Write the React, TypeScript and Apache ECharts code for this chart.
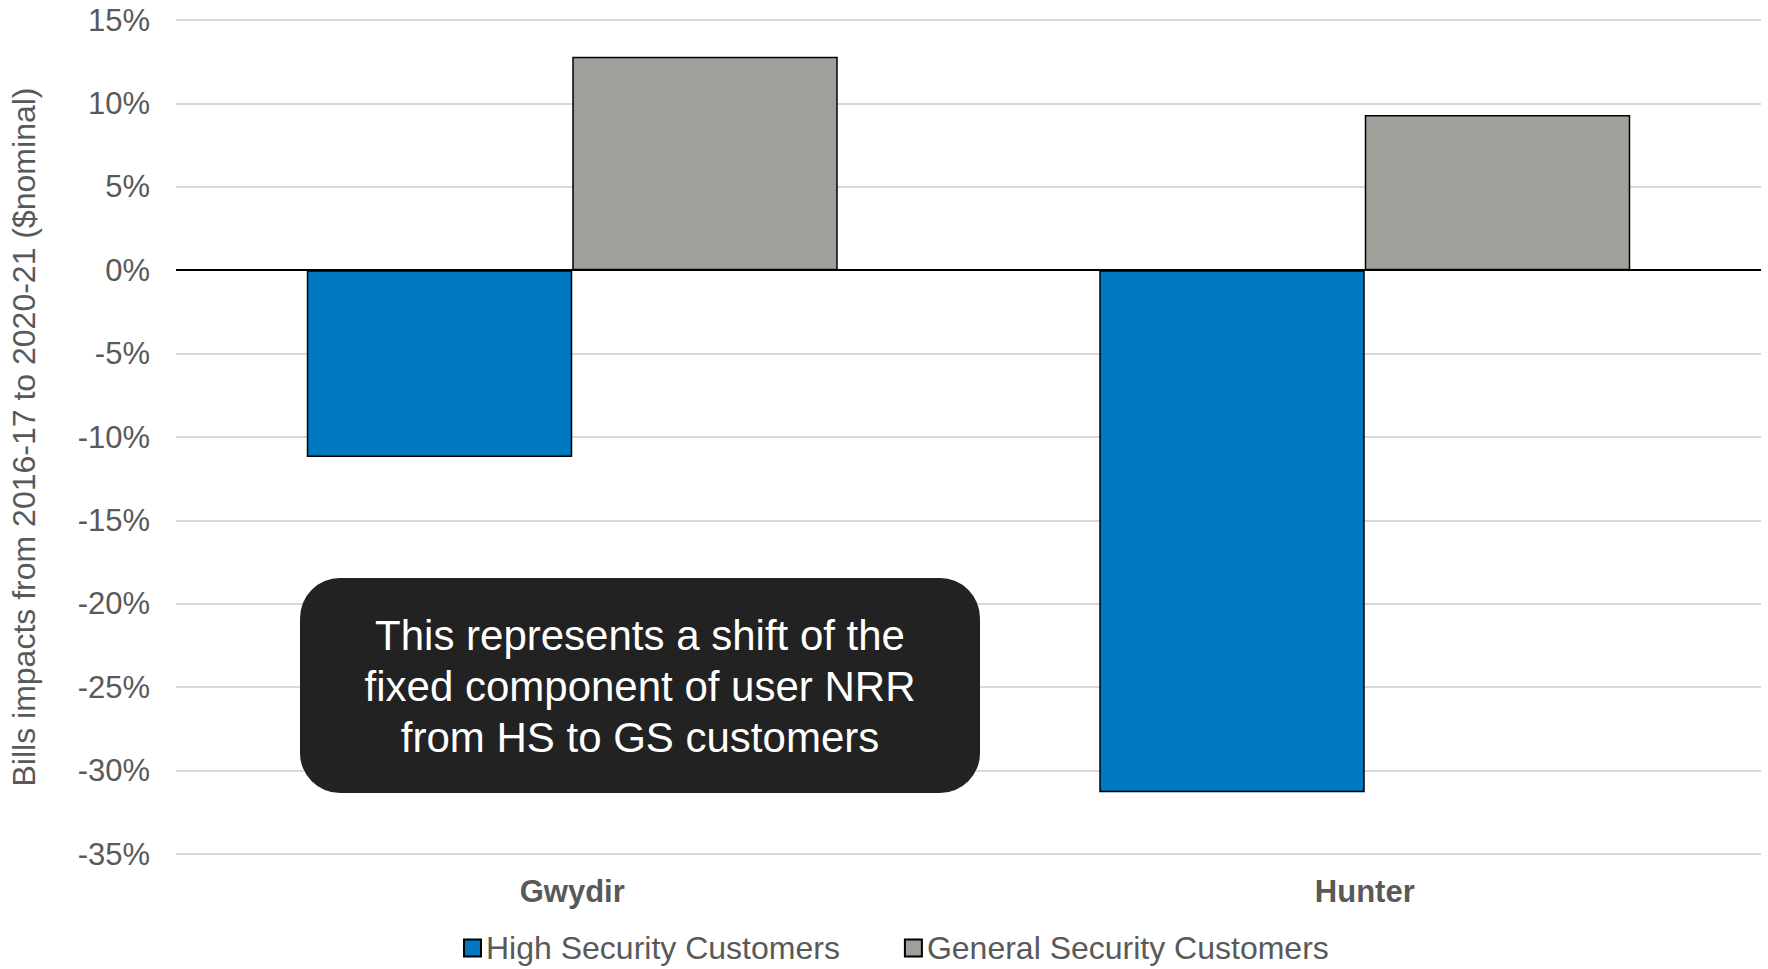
import React, { useEffect, useRef } from "react";
import * as echarts from "echarts";

const categories = ["Gwydir", "Hunter"];
const highSecurity = [-11.2, -31.3];
const generalSecurity = [12.8, 9.3];
const seriesNames = ["High Security Customers", "General Security Customers"];
const yAxisTitle = "Bills impacts from 2016-17 to 2020-21 ($nominal)";
const annotationLines = [
  "This represents a shift of the",
  "fixed component of user NRR",
  "from HS to GS customers",
];

const FONT = "'Liberation Sans', Arial, sans-serif";
const TXT = "#595959";

export default function App() {
  const ref = useRef<HTMLDivElement>(null);
  useEffect(() => {
    document.body.style.margin = "0";
    const chart = echarts.init(ref.current!, null, { renderer: "svg" });
    chart.setOption({
      animation: false,
      textStyle: { fontFamily: FONT },
      grid: { left: 172, right: 7, top: 20, bottom: 115, containLabel: false },
      legend: {
        left: 458,
        top: 925,
        icon: "rect",
        itemWidth: 17,
        itemHeight: 17,
        itemGap: 64,
        textStyle: { fontSize: 32, color: TXT, fontFamily: FONT, lineHeight: 36 },
        data: seriesNames,
      },
      xAxis: {
        type: "category",
        data: categories,
        axisLine: { show: false, onZero: false },
        axisTick: { show: false },
        axisLabel: {
          fontSize: 31,
          fontWeight: "bold",
          color: TXT,
          margin: 22,
          fontFamily: FONT,
        },
      },
      yAxis: {
        type: "value",
        min: -35,
        max: 15,
        interval: 5,
        name: yAxisTitle,
        nameLocation: "middle",
        nameGap: 136,
        nameTextStyle: { fontSize: 32, color: TXT, fontFamily: FONT },
        axisLabel: {
          formatter: "{value}%",
          fontSize: 31,
          color: TXT,
          margin: 26,
          fontFamily: FONT,
        },
        splitLine: { lineStyle: { color: "#d9d9d9", width: 2 } },
        axisLine: { show: false },
        axisTick: { show: false },
      },
      series: [
        {
          name: seriesNames[0],
          type: "bar",
          data: highSecurity,
          barGap: "0%",
          barCategoryGap: "33%",
          itemStyle: { color: "#0079c1", borderColor: "#000", borderWidth: 1.5 },
          markLine: {
            silent: true,
            symbol: "none",
            label: { show: false },
            lineStyle: { color: "#000", width: 2, type: "solid" },
            data: [{ yAxis: 0 }],
            z: 10,
          },
        },
        {
          name: seriesNames[1],
          type: "bar",
          data: generalSecurity,
          itemStyle: { color: "#9fa09a", borderColor: "#000", borderWidth: 1.5 },
        },
      ],
      graphic: [
        {
          type: "rect",
          z: 100,
          shape: { x: 300, y: 578, width: 680, height: 215, r: 40 },
          style: { fill: "#222222" },
        },
        {
          type: "text",
          z: 101,
          x: 640,
          y: 686,
          style: {
            text: annotationLines.join("\n"),
            fill: "#ffffff",
            fontSize: 42,
            lineHeight: 51,
            fontFamily: FONT,
            align: "center",
            verticalAlign: "middle",
          },
        },
      ],
    });
    return () => chart.dispose();
  }, []);
  return <div ref={ref} style={{ width: 1768, height: 969 }} />;
}
